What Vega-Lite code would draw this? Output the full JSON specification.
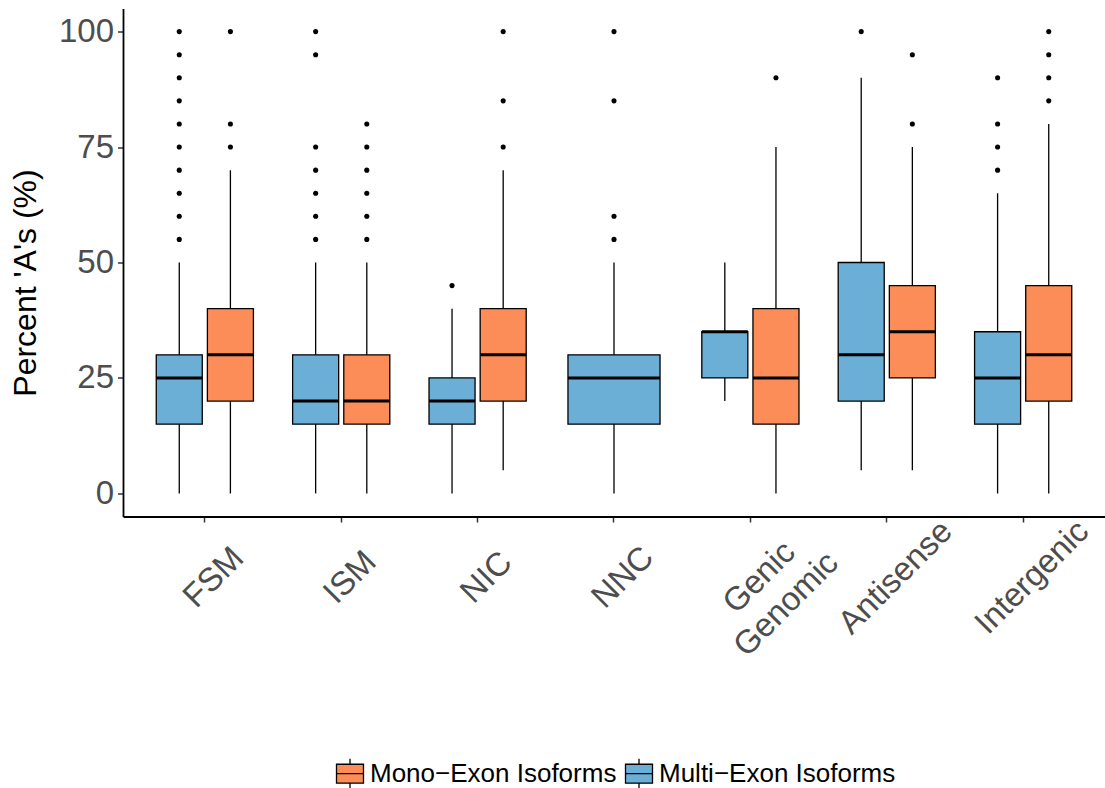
{
  "$schema": "https://vega.github.io/schema/vega-lite/v6.json",
  "width": 982,
  "height": 508,
  "autosize": {"type": "none"},
  "padding": {"left": 123, "top": 8.5, "right": 0, "bottom": 271.5},
  "background": "white",
  "config": {
    "view": {"stroke": null},
    "font": "Liberation Sans",
    "axis": {"grid": false, "domainColor": "black", "domainWidth": 1.8, "tickColor": "#333333", "tickWidth": 1.5, "tickSize": 5.5, "labelFont": "Liberation Sans", "labelFontSize": 33, "labelColor": "#4D4D4D", "titleFont": "Liberation Sans"}
  },
  "datasets": {
    "boxes": [
      {"c": "FSM", "t": "Multi−Exon Isoforms", "lower": 0, "q1": 15, "median": 25, "q3": 30, "upper": 50},
      {"c": "FSM", "t": "Mono−Exon Isoforms", "lower": 0, "q1": 20, "median": 30, "q3": 40, "upper": 70},
      {"c": "ISM", "t": "Multi−Exon Isoforms", "lower": 0, "q1": 15, "median": 20, "q3": 30, "upper": 50},
      {"c": "ISM", "t": "Mono−Exon Isoforms", "lower": 0, "q1": 15, "median": 20, "q3": 30, "upper": 50},
      {"c": "NIC", "t": "Multi−Exon Isoforms", "lower": 0, "q1": 15, "median": 20, "q3": 25, "upper": 40},
      {"c": "NIC", "t": "Mono−Exon Isoforms", "lower": 5, "q1": 20, "median": 30, "q3": 40, "upper": 70},
      {"c": "NNC", "t": "Multi−Exon Isoforms", "lower": 0, "q1": 15, "median": 25, "q3": 30, "upper": 50},
      {"c": "Genic Genomic", "t": "Multi−Exon Isoforms", "lower": 20, "q1": 25, "median": 35, "q3": 35, "upper": 50},
      {"c": "Genic Genomic", "t": "Mono−Exon Isoforms", "lower": 0, "q1": 15, "median": 25, "q3": 40, "upper": 75},
      {"c": "Antisense", "t": "Multi−Exon Isoforms", "lower": 5, "q1": 20, "median": 30, "q3": 50, "upper": 90},
      {"c": "Antisense", "t": "Mono−Exon Isoforms", "lower": 5, "q1": 25, "median": 35, "q3": 45, "upper": 75},
      {"c": "Intergenic", "t": "Multi−Exon Isoforms", "lower": 0, "q1": 15, "median": 25, "q3": 35, "upper": 65},
      {"c": "Intergenic", "t": "Mono−Exon Isoforms", "lower": 0, "q1": 20, "median": 30, "q3": 45, "upper": 80}
    ],
    "outliers": [
      {"c": "FSM", "t": "Multi−Exon Isoforms", "v": 100},
      {"c": "FSM", "t": "Multi−Exon Isoforms", "v": 95},
      {"c": "FSM", "t": "Multi−Exon Isoforms", "v": 90},
      {"c": "FSM", "t": "Multi−Exon Isoforms", "v": 85},
      {"c": "FSM", "t": "Multi−Exon Isoforms", "v": 80},
      {"c": "FSM", "t": "Multi−Exon Isoforms", "v": 75},
      {"c": "FSM", "t": "Multi−Exon Isoforms", "v": 70},
      {"c": "FSM", "t": "Multi−Exon Isoforms", "v": 65},
      {"c": "FSM", "t": "Multi−Exon Isoforms", "v": 60},
      {"c": "FSM", "t": "Multi−Exon Isoforms", "v": 55},
      {"c": "FSM", "t": "Mono−Exon Isoforms", "v": 100},
      {"c": "FSM", "t": "Mono−Exon Isoforms", "v": 80},
      {"c": "FSM", "t": "Mono−Exon Isoforms", "v": 75},
      {"c": "ISM", "t": "Multi−Exon Isoforms", "v": 100},
      {"c": "ISM", "t": "Multi−Exon Isoforms", "v": 95},
      {"c": "ISM", "t": "Multi−Exon Isoforms", "v": 75},
      {"c": "ISM", "t": "Multi−Exon Isoforms", "v": 70},
      {"c": "ISM", "t": "Multi−Exon Isoforms", "v": 65},
      {"c": "ISM", "t": "Multi−Exon Isoforms", "v": 60},
      {"c": "ISM", "t": "Multi−Exon Isoforms", "v": 55},
      {"c": "ISM", "t": "Mono−Exon Isoforms", "v": 80},
      {"c": "ISM", "t": "Mono−Exon Isoforms", "v": 75},
      {"c": "ISM", "t": "Mono−Exon Isoforms", "v": 70},
      {"c": "ISM", "t": "Mono−Exon Isoforms", "v": 65},
      {"c": "ISM", "t": "Mono−Exon Isoforms", "v": 60},
      {"c": "ISM", "t": "Mono−Exon Isoforms", "v": 55},
      {"c": "NIC", "t": "Multi−Exon Isoforms", "v": 45},
      {"c": "NIC", "t": "Mono−Exon Isoforms", "v": 100},
      {"c": "NIC", "t": "Mono−Exon Isoforms", "v": 85},
      {"c": "NIC", "t": "Mono−Exon Isoforms", "v": 75},
      {"c": "NNC", "t": "Multi−Exon Isoforms", "v": 100},
      {"c": "NNC", "t": "Multi−Exon Isoforms", "v": 85},
      {"c": "NNC", "t": "Multi−Exon Isoforms", "v": 60},
      {"c": "NNC", "t": "Multi−Exon Isoforms", "v": 55},
      {"c": "Genic Genomic", "t": "Mono−Exon Isoforms", "v": 90},
      {"c": "Antisense", "t": "Multi−Exon Isoforms", "v": 100},
      {"c": "Antisense", "t": "Mono−Exon Isoforms", "v": 95},
      {"c": "Antisense", "t": "Mono−Exon Isoforms", "v": 80},
      {"c": "Intergenic", "t": "Multi−Exon Isoforms", "v": 90},
      {"c": "Intergenic", "t": "Multi−Exon Isoforms", "v": 80},
      {"c": "Intergenic", "t": "Multi−Exon Isoforms", "v": 75},
      {"c": "Intergenic", "t": "Multi−Exon Isoforms", "v": 70},
      {"c": "Intergenic", "t": "Mono−Exon Isoforms", "v": 100},
      {"c": "Intergenic", "t": "Mono−Exon Isoforms", "v": 95},
      {"c": "Intergenic", "t": "Mono−Exon Isoforms", "v": 90},
      {"c": "Intergenic", "t": "Mono−Exon Isoforms", "v": 85}
    ]
  },
  "layer": [
    {
      "data": {"name": "boxes"},
      "transform": [{"filter": "datum.c != 'NNC'"}],
      "mark": {"type": "rule", "color": "black", "strokeWidth": 1.3},
      "encoding": {
        "x": {"field": "c", "type": "nominal", "sort": null,
          "scale": {"domain": ["FSM", "ISM", "NIC", "NNC", "Genic Genomic", "Antisense", "Intergenic"], "paddingInner": 0.25, "paddingOuter": 0.225},
          "axis": {"title": null, "labelAngle": -45, "labelAlign": "center", "labelBaseline": "middle", "labelPadding": 55, "labelOffset": 9, "labelLineHeight": 38, "labelOverlap": false, "labelBound": false, "labelLimit": 0,
            "labelExpr": "datum.label == 'Genic Genomic' ? ['Genic', 'Genomic'] : datum.label"}},
        "xOffset": {"field": "t", "type": "nominal", "scale": {"domain": ["Multi−Exon Isoforms", "Mono−Exon Isoforms"], "paddingInner": 0.1, "paddingOuter": 0.05}},
        "y": {"field": "lower", "type": "quantitative",
          "scale": {"domain": [-5, 105], "nice": false, "zero": false},
          "axis": {"values": [0, 25, 50, 75, 100], "title": "Percent 'A's (%)", "titleFontSize": 32, "titleColor": "black", "titleFontWeight": "normal", "titleAngle": -90, "titleAlign": "center", "titleBaseline": "middle", "titleX": -98, "titleY": 274, "labelPadding": 4}},
        "y2": {"field": "upper"}
      }
    },
    {
      "data": {"name": "boxes"},
      "transform": [{"filter": "datum.c != 'NNC'"}],
      "mark": {"type": "bar", "stroke": "black", "strokeWidth": 1.3},
      "encoding": {
        "x": {"field": "c", "type": "nominal", "sort": null},
        "xOffset": {"field": "t", "type": "nominal"},
        "y": {"field": "q1", "type": "quantitative"},
        "y2": {"field": "q3"},
        "fill": {"field": "t", "type": "nominal",
          "scale": {"domain": ["Mono−Exon Isoforms", "Multi−Exon Isoforms"], "range": ["#FC8D59", "#6BAED6"]},
          "legend": {"title": null, "orient": "none", "legendX": 211, "legendY": 749, "direction": "horizontal",
            "symbolType": "M-0.9,-0.63H0.9V0.63H-0.9Z M-0.9,0H0.9 M0,-0.63V-1 M0,0.63V1", "symbolSize": 900,
            "symbolStrokeColor": "black", "symbolStrokeWidth": 1.3, "symbolOpacity": 1,
            "labelFontSize": 26, "labelColor": "black", "labelFont": "Liberation Sans", "labelOffset": 4, "columnPadding": 5, "padding": 0, "labelLimit": 0}}
      }
    },
    {
      "data": {"name": "boxes"},
      "transform": [{"filter": "datum.c != 'NNC'"}],
      "mark": {"type": "tick", "orient": "horizontal", "thickness": 3, "size": 46, "color": "black", "opacity": 1},
      "encoding": {
        "x": {"field": "c", "type": "nominal", "sort": null},
        "xOffset": {"field": "t", "type": "nominal"},
        "y": {"field": "median", "type": "quantitative"}
      }
    },
    {
      "data": {"name": "outliers"},
      "transform": [{"filter": "datum.c != 'NNC'"}],
      "mark": {"type": "circle", "size": 26, "color": "black", "opacity": 1},
      "encoding": {
        "x": {"field": "c", "type": "nominal", "sort": null},
        "xOffset": {"field": "t", "type": "nominal"},
        "y": {"field": "v", "type": "quantitative"}
      }
    },
    {
      "data": {"name": "boxes"},
      "transform": [{"filter": "datum.c == 'NNC'"}],
      "mark": {"type": "rule", "color": "black", "strokeWidth": 1.3},
      "encoding": {
        "x": {"field": "c", "type": "nominal", "sort": null},
        "y": {"field": "lower", "type": "quantitative"},
        "y2": {"field": "upper"}
      }
    },
    {
      "data": {"name": "boxes"},
      "transform": [{"filter": "datum.c == 'NNC'"}],
      "mark": {"type": "bar", "stroke": "black", "strokeWidth": 1.3, "width": {"band": 0.9}},
      "encoding": {
        "x": {"field": "c", "type": "nominal", "sort": null},
        "y": {"field": "q1", "type": "quantitative"},
        "y2": {"field": "q3"},
        "fill": {"field": "t", "type": "nominal"}
      }
    },
    {
      "data": {"name": "boxes"},
      "transform": [{"filter": "datum.c == 'NNC'"}],
      "mark": {"type": "tick", "orient": "horizontal", "thickness": 3, "size": 92, "color": "black", "opacity": 1},
      "encoding": {
        "x": {"field": "c", "type": "nominal", "sort": null},
        "y": {"field": "median", "type": "quantitative"}
      }
    },
    {
      "data": {"name": "outliers"},
      "transform": [{"filter": "datum.c == 'NNC'"}],
      "mark": {"type": "circle", "size": 26, "color": "black", "opacity": 1},
      "encoding": {
        "x": {"field": "c", "type": "nominal", "sort": null},
        "y": {"field": "v", "type": "quantitative"}
      }
    }
  ]
}
